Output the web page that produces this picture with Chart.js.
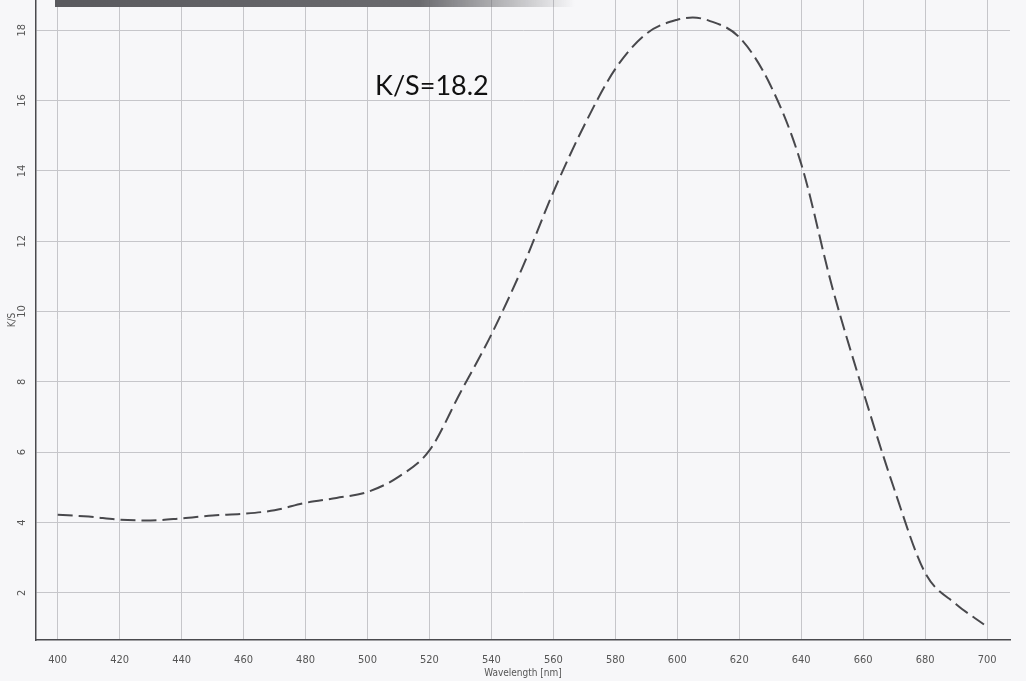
<!DOCTYPE html>
<html>
<head>
<meta charset="utf-8">
<script src="https://cdn.jsdelivr.net/npm/chart.js@4/dist/chart.umd.min.js"></script>
<style>
  body { margin: 0; background: #f7f7f9; }
  #wrap { position: relative; width: 1026px; height: 681px; }
  #band { position: absolute; left: 55px; top: 0; width: 520px; height: 7px;
          background: linear-gradient(to right, #5a5a5e 0%, #6a6a6e 70%, rgba(120,120,125,0) 100%); }
  #note { position: absolute; left: 375px; top: 68px; font-family: Lato, "Open Sans", sans-serif;
          font-size: 27px; color: #111; }
</style>
</head>
<body>
<div id="wrap">
  <canvas id="myLineChart" width="1026" height="681"></canvas>
  <div id="band"></div>
  <div id="note">K/S=18.2</div>
</div>
<script>
const wavelengths = [400, 410, 420, 430, 440, 450, 460, 470, 480, 490, 500, 510, 520, 530, 540, 550,
  560, 570, 580, 590, 600, 605, 610, 620, 630, 640, 650, 660, 670, 680, 690, 699];
const ksValues = [4.22, 4.17, 4.08, 4.06, 4.12, 4.2, 4.25, 4.35, 4.56, 4.7, 4.87, 5.3, 6.05, 7.7, 9.35, 11.25,
  13.4, 15.3, 16.9, 17.9, 18.3, 18.36, 18.28, 17.8, 16.45, 14.2, 10.7, 7.73, 4.96, 2.57, 1.68, 1.1];
const xTicks = [400, 420, 440, 460, 480, 500, 520, 540, 560, 580, 600, 620, 640, 660, 680, 700];
const yTicks = [2, 4, 6, 8, 10, 12, 14, 16, 18];

const points = wavelengths.map((w, i) => ({ x: w, y: ksValues[i] }));
const tickFont = { family: '"Liberation Sans Narrow", "DejaVu Sans Condensed", "Liberation Sans", sans-serif', size: 11 };

let ctx = document.getElementById('myLineChart').getContext('2d');
let myLineChart = new Chart(ctx, {
  type: 'line',
  data: {
    datasets: [{
      data: points,
      borderColor: '#48484c',
      borderWidth: 2,
      borderDash: [15, 6],
      pointRadius: 0,
      fill: false,
      cubicInterpolationMode: 'monotone'
    }]
  },
  options: {
    responsive: false,
    animation: false,
    layout: { padding: { top: 0, right: 16, left: 0, bottom: 0 } },
    plugins: { legend: { display: false }, tooltip: { enabled: false } },
    scales: {
      x: {
        type: 'linear',
        min: 393,
        max: 707.4,
        afterBuildTicks: s => { s.ticks = xTicks.map(v => ({ value: v })); },
        afterFit: s => { s.height = 41; s.paddingLeft = 0; s.paddingRight = 0; },
        grid: { color: '#c6c6ca', drawTicks: false },
        border: { display: true, color: '#4a4a4e', width: 1.5 },
        ticks: { color: '#555', font: tickFont, padding: 14, maxRotation: 0, autoSkip: false },
        title: { display: true, text: 'Wavelength [nm]', color: '#555', font: { family: tickFont.family, size: 10 }, padding: { top: 0, bottom: 2 } }
      },
      y: {
        type: 'linear',
        min: 0.66,
        max: 18.86,
        afterBuildTicks: s => { s.ticks = yTicks.map(v => ({ value: v })); },
        afterFit: s => { s.width = 36; s.paddingTop = 0; s.paddingBottom = 0; },
        grid: { color: '#c6c6ca', drawTicks: false },
        border: { display: true, color: '#4a4a4e', width: 1.5 },
        ticks: { color: '#555', font: tickFont, padding: 8, minRotation: 90, maxRotation: 90, crossAlign: 'center' },
        title: { display: true, text: 'K/S', color: '#555', font: { family: tickFont.family, size: 10 }, padding: { top: 6, bottom: 0 } }
      }
    }
  }
});
</script>
</body>
</html>
